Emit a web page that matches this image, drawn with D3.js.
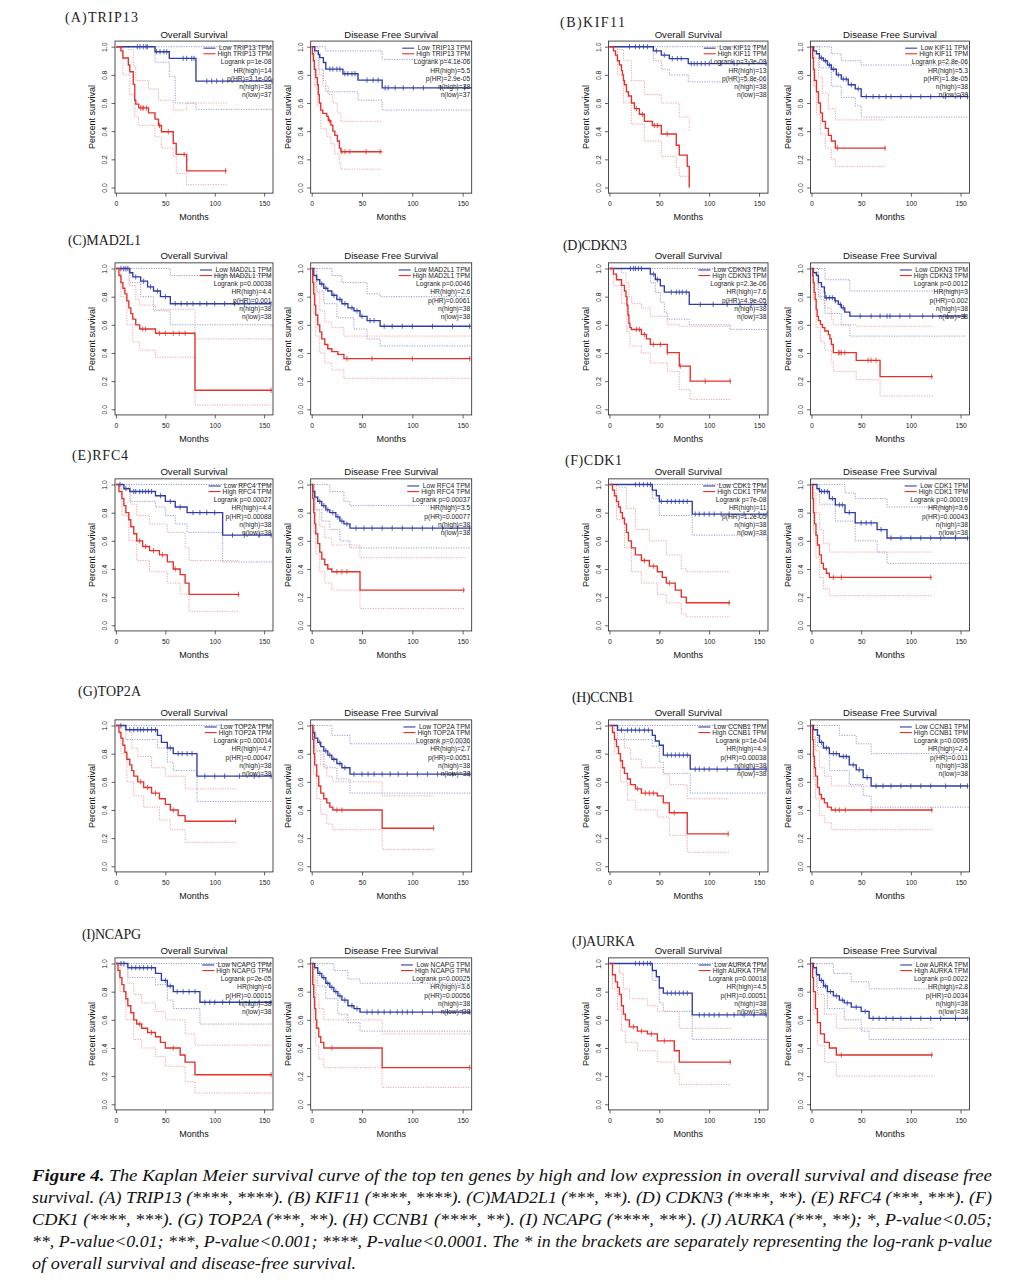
<!DOCTYPE html>
<html><head><meta charset="utf-8">
<script src="https://cdn.jsdelivr.net/npm/d3@7"></script>
<style>body{margin:0;background:#fff}</style></head>
<body><svg id="c" width="1027" height="1280"></svg>
<script>
// ---------------- DATA ----------------
const genes = ["TRIP13","KIF11","MAD2L1","CDKN3","RFC4","CDK1","TOP2A","CCNB1","NCAPG","AURKA"];
const panelLetters = ["A","B","C","D","E","F","G","H","I","J"];
const xTicks = [0,50,100,150];
const yTicks = [0,0.2,0.4,0.6,0.8,1.0];

const statsOS = [
 ["Logrank p=1e-08","HR(high)=14","p(HR)=3.1e-06","n(high)=38","n(low)=37"],
 ["Logrank p=3.3e-08","HR(high)=13","p(HR)=5.8e-06","n(high)=38","n(low)=38"],
 ["Logrank p=0.00038","HR(high)=4.4","p(HR)=0.001","n(high)=38","n(low)=38"],
 ["Logrank p=2.3e-06","HR(high)=7.6","p(HR)=4.9e-05","n(high)=38","n(low)=38"],
 ["Logrank p=0.00027","HR(high)=4.4","p(HR)=0.00088","n(high)=38","n(low)=38"],
 ["Logrank p=7e-08","HR(high)=11","p(HR)=1.2e-05","n(high)=38","n(low)=38"],
 ["Logrank p=0.00014","HR(high)=4.7","p(HR)=0.00047","n(high)=38","n(low)=38"],
 ["Logrank p=1e-04","HR(high)=4.9","p(HR)=0.00038","n(high)=38","n(low)=38"],
 ["Logrank p=2e-05","HR(high)=6","p(HR)=0.00015","n(high)=38","n(low)=38"],
 ["Logrank p=0.00018","HR(high)=4.5","p(HR)=0.00051","n(high)=38","n(low)=38"]];
const statsDFS = [
 ["Logrank p=4.1e-06","HR(high)=5.5","p(HR)=2.9e-05","n(high)=38","n(low)=37"],
 ["Logrank p=2.8e-06","HR(high)=5.3","p(HR)=1.8e-05","n(high)=38","n(low)=38"],
 ["Logrank p=0.0046","HR(high)=2.6","p(HR)=0.0061","n(high)=38","n(low)=38"],
 ["Logrank p=0.0012","HR(high)=3","p(HR)=0.002","n(high)=38","n(low)=38"],
 ["Logrank p=0.00037","HR(high)=3.5","p(HR)=0.00077","n(high)=38","n(low)=38"],
 ["Logrank p=0.00019","HR(high)=3.6","p(HR)=0.00043","n(high)=38","n(low)=38"],
 ["Logrank p=0.0036","HR(high)=2.7","p(HR)=0.0051","n(high)=38","n(low)=38"],
 ["Logrank p=0.0095","HR(high)=2.4","p(HR)=0.011","n(high)=38","n(low)=38"],
 ["Logrank p=0.00025","HR(high)=3.6","p(HR)=0.00056","n(high)=38","n(low)=38"],
 ["Logrank p=0.0022","HR(high)=2.8","p(HR)=0.0034","n(high)=38","n(low)=38"]];

// Kaplan-Meier steps [month, survival] — low expression (blue)
const OS_low = [
 [[0,1],[39.5,0.964],[54,0.917],[81,0.756],[158,0.756]],
 [[0,1],[44,0.97],[52,0.94],[60,0.915],[79,0.88],[158,0.88]],
 [[0,1],[14,0.97],[17,0.94],[25,0.91],[32,0.87],[38,0.84],[45,0.8],[55,0.75],[157,0.75]],
 [[0,1],[41,0.96],[46,0.922],[51,0.877],[55,0.832],[80,0.745],[158,0.745]],
 [[0,1],[8,0.97],[14,0.95],[40,0.92],[50,0.88],[60,0.84],[72,0.8],[108,0.64],[158,0.64]],
 [[0,1],[43,0.96],[47,0.92],[50,0.88],[83,0.79],[158,0.79]],
 [[0,1],[10,0.97],[42,0.93],[46,0.88],[52,0.84],[58,0.8],[82,0.64],[158,0.64]],
 [[0,1],[8,0.967],[43,0.93],[46,0.89],[50,0.86],[54,0.79],[81,0.69],[158,0.69]],
 [[0,1],[12,0.97],[40,0.93],[46,0.88],[52,0.84],[58,0.8],[85,0.725],[158,0.725]],
 [[0,1],[43,0.95],[47,0.906],[50,0.826],[54,0.79],[83,0.635],[158,0.635]]];
const OS_high = [
 [[0,1],[5,0.97],[7,0.92],[12.5,0.87],[14,0.822],[17.5,0.732],[19,0.62],[20,0.592],[23,0.565],[33,0.53],[39.5,0.486],[43,0.44],[46,0.396],[58,0.313],[61,0.235],[71.6,0.118],[112,0.118]],
 [[0,1],[4,0.97],[6,0.94],[8,0.9],[10,0.87],[12,0.83],[13,0.8],[14,0.76],[15,0.73],[17,0.68],[19,0.65],[22,0.6],[25,0.56],[30,0.52],[35,0.47],[43,0.44],[52,0.38],[67,0.3],[70,0.23],[78,0.15],[80,0],[80,0]],
 [[0,1],[3,0.95],[5,0.9],[7,0.86],[9,0.82],[11,0.77],[13,0.72],[15,0.68],[17,0.64],[20,0.6],[24,0.57],[40,0.54],[80,0.135],[158,0.135]],
 [[0,1],[4,0.96],[7,0.92],[12,0.88],[15,0.84],[16.5,0.8],[17.5,0.74],[18.5,0.67],[19.5,0.61],[20.5,0.58],[22,0.567],[32,0.532],[37,0.5],[41,0.461],[58,0.402],[70,0.307],[81,0.2],[122,0.2]],
 [[0,1],[3,0.95],[6,0.9],[8,0.85],[10,0.8],[13,0.75],[15,0.7],[18,0.65],[21,0.6],[27,0.56],[34,0.53],[44,0.5],[52,0.45],[58,0.4],[65,0.36],[70,0.3],[74,0.22],[125,0.22]],
 [[0,1],[3,0.96],[5,0.92],[7,0.88],[9,0.84],[11,0.8],[13,0.76],[15,0.72],[17,0.66],[19,0.6],[22,0.55],[26,0.5],[32,0.46],[40,0.42],[48,0.38],[53,0.34],[57,0.3],[66,0.25],[72,0.2],[77,0.16],[121,0.16]],
 [[0,1],[3,0.95],[5,0.91],[7,0.86],[9,0.81],[11,0.76],[14,0.72],[16,0.68],[18,0.64],[22,0.6],[28,0.56],[36,0.52],[44,0.48],[50,0.44],[55,0.4],[63,0.36],[70,0.32],[122,0.32]],
 [[0,1],[3,0.95],[5,0.9],[7,0.85],[9,0.8],[11,0.75],[13,0.7],[15,0.66],[18,0.62],[21,0.58],[26,0.55],[32,0.52],[48,0.5],[54,0.45],[60,0.38],[78,0.23],[120,0.23]],
 [[0,1],[2,0.95],[4,0.9],[6,0.85],[8,0.8],[10,0.75],[12,0.7],[15,0.65],[18,0.6],[21,0.57],[26,0.54],[32,0.51],[40,0.48],[45,0.44],[50,0.4],[65,0.35],[70,0.3],[80,0.21],[158,0.21]],
 [[0,1],[3,0.92],[6,0.87],[8,0.83],[10,0.78],[12,0.7],[14,0.64],[16,0.6],[20,0.55],[28,0.52],[38,0.5],[48,0.45],[65,0.38],[70,0.3],[122,0.3]]];
const DFS_low = [
 [[0,1],[3,0.97],[6.6,0.945],[8,0.922],[11.6,0.888],[14,0.841],[31,0.808],[46,0.763],[70,0.708],[159,0.708]],
 [[0,1],[2,0.97],[5,0.95],[8,0.92],[12,0.9],[16,0.87],[20,0.84],[25,0.8],[30,0.77],[37,0.73],[44,0.7],[50,0.645],[158,0.645]],
 [[0,1],[2,0.95],[5,0.92],[8,0.89],[12,0.86],[16,0.84],[20,0.81],[25,0.78],[30,0.75],[36,0.72],[42,0.7],[48,0.66],[55,0.63],[68,0.59],[158,0.59]],
 [[0,1],[1.7,0.97],[5,0.95],[7,0.9],[10,0.87],[13,0.83],[13.5,0.792],[23.5,0.77],[27,0.745],[30,0.72],[33.5,0.69],[38.6,0.662],[156,0.662]],
 [[0,1],[1,0.95],[3,0.91],[6,0.88],[10,0.85],[14,0.82],[18,0.8],[24,0.77],[28,0.74],[32,0.72],[38,0.69],[158,0.69]],
 [[0,1],[5.5,0.97],[8,0.95],[18,0.9],[24,0.855],[33.7,0.8],[44,0.727],[66,0.68],[76,0.62],[158,0.62]],
 [[0,1],[1,0.95],[3,0.91],[6,0.88],[9,0.85],[12,0.82],[16,0.79],[20,0.76],[25,0.73],[30,0.7],[38,0.655],[158,0.655]],
 [[0,1],[2,0.97],[6,0.93],[8,0.88],[12,0.84],[18,0.8],[28,0.78],[38,0.72],[45,0.685],[52,0.63],[60,0.57],[158,0.57]],
 [[0,1],[3,0.97],[6,0.93],[10,0.9],[14,0.86],[18,0.83],[22,0.8],[26,0.77],[30,0.74],[36,0.7],[42,0.68],[48,0.655],[158,0.655]],
 [[0,1],[2,0.97],[5,0.92],[8,0.88],[12,0.84],[16,0.8],[22,0.77],[28,0.74],[33,0.72],[40,0.69],[50,0.66],[58,0.61],[158,0.61]]];
const DFS_high = [
 [[0,1],[0.7,0.95],[1.6,0.9],[2.6,0.84],[4,0.78],[5.6,0.73],[6.6,0.66],[7.6,0.6],[9,0.55],[11,0.526],[15,0.505],[16.5,0.476],[19,0.443],[21,0.4],[23,0.37],[25.5,0.33],[27.5,0.28],[29,0.254],[70,0.254]],
 [[0,1],[1,0.92],[2,0.84],[3,0.76],[5,0.68],[7,0.6],[9,0.53],[11,0.47],[14,0.42],[17,0.37],[20,0.33],[24,0.28],[75,0.28]],
 [[0,1],[1,0.9],[2,0.82],[3,0.74],[4,0.67],[6,0.6],[8,0.55],[10,0.5],[13,0.46],[16,0.43],[20,0.41],[26,0.39],[32,0.36],[158,0.36]],
 [[0,1],[1,0.95],[1.7,0.9],[2.7,0.83],[3.7,0.78],[4.7,0.71],[5.7,0.66],[7,0.63],[9,0.603],[11,0.58],[13.4,0.556],[17,0.53],[18.5,0.5],[20,0.46],[22,0.402],[45,0.348],[69,0.232],[122,0.232]],
 [[0,1],[1,0.9],[2,0.8],[3,0.72],[4,0.65],[6,0.58],[8,0.52],[10,0.47],[13,0.43],[16,0.4],[20,0.38],[48,0.25],[152,0.25]],
 [[0,1],[1,0.9],[2,0.8],[3,0.72],[4.5,0.64],[6,0.57],[8,0.5],[10,0.44],[12,0.4],[15,0.37],[18,0.34],[121,0.34]],
 [[0,1],[1,0.9],[2,0.8],[3,0.72],[5,0.64],[7,0.57],[9,0.52],[12,0.48],[15,0.45],[18,0.42],[21,0.4],[70,0.27],[122,0.27]],
 [[0,1],[1,0.9],[2,0.78],[3,0.7],[4,0.64],[6,0.56],[8,0.51],[10,0.48],[13,0.45],[16,0.42],[20,0.4],[122,0.4]],
 [[0,1],[1,0.85],[2,0.76],[3,0.68],[4,0.6],[5,0.54],[7,0.48],[9,0.44],[12,0.4],[70,0.26],[158,0.26]],
 [[0,1],[1,0.9],[2,0.8],[4,0.68],[6,0.58],[9,0.5],[13,0.44],[18,0.4],[25,0.35],[122,0.35]]];

// censored times (months)
const OS_low_cens = [
 [21.6,24.3,27.7,30.4,31.8,41,44.6,48.6,51.4,68,71.6,76.7,79,92,97,102,108,158],
 [20,26,30,34,38,47,55,63,68,72,82,85,88,92,96,100,112,125,140,157],
 [5,8,10,12,20,28,35,42,50,60,66,72,78,85,92,100,110,120,130,157],
 [21,24,26,29,32,44,48,62,67,70,73,77,91,104,118,131,142,156],
 [4,10,18,20,24,27,30,33,36,45,55,65,78,85,92,100,118,130,145,157],
 [26,30,34,38,41,52,58,62,66,70,74,78,86,90,95,100,105,112,120,135,150,158],
 [5,14,18,22,25,28,32,36,40,55,63,67,72,77,90,100,110,125,140,157],
 [12,18,22,26,30,35,39,58,62,66,70,74,78,86,90,95,100,108,118,130,145,157],
 [5,8,16,20,24,28,32,36,50,55,62,68,74,80,90,95,100,108,115,125,135,145,157],
 [26,30,34,38,41,58,62,66,70,74,78,90,95,100,105,110,118,125,135,145,157]];
const OS_high_cens = [
 [25,26.5,28,31,44,53,69,111],[27,33,45,48,58],[27,30,44,50,58,64,70,157],[27,30,35,44,51,58,71,96,121],
 [24,30,38,47,60,124],[35,44,60,120],[25,32,40,58,121],[28,36,40,44,65,119],[24,36,58,157],[24,32,42,55,121]];
const DFS_low_cens = [
 [18,21,25,28,33,36,40,43,55,61,66,73,76,83,91,101,111,128,152],
 [10,14,18,22,27,32,35,40,47,55,62,68,75,80,90,100,110,120,135,150,157],
 [10,14,22,28,33,40,45,50,58,62,72,80,90,100,120,140,157],
 [15,18,21,24,29,32,49,60,69,76,79,89,99,112,122,137,154],
 [8,12,16,21,26,30,35,44,52,60,70,80,90,100,110,120,130,145,157],
 [10,13,16,21,28,31,38,50,55,60,70,80,90,100,110,120,130,145,157],
 [8,14,18,22,28,33,42,50,56,62,70,78,86,95,105,115,125,140,157],
 [10,15,22,25,32,35,42,48,56,65,72,80,90,100,110,120,135,150,157],
 [8,12,16,20,24,28,33,40,45,55,60,66,72,78,85,90,95,100,110,120,135,150,157],
 [10,14,19,25,31,36,45,54,62,68,75,82,90,100,110,120,130,145,157]];
const DFS_high_cens = [
 [17.5,30,33,38,54,68],[26,74],[35,60,100,157],[27,28.5,30,33.5,57,60,65,121],[25,30,35,151],
 [22,30,120],[25,30,121],[24,28,34,60,121],[20,157],[30,121]];

// 95% confidence bands (dotted) [month, survival]
const OS_low_ciUp = [
 [[0,1],[158,1]],[[0,1],[158,1]],[[0,1],[40,1],[55,0.95],[158,0.95]],[[0,1],[158,1]],[[0,1],[158,1]],
 [[0,1],[158,1]],[[0,1],[158,1]],[[0,1],[158,1]],[[0,1],[158,1]],[[0,1],[158,1]]];
const OS_low_ciDn = [
 [[0,1],[39.5,0.89],[54,0.79],[60,0.6],[81,0.555],[158,0.555]],
 [[0,1],[44,0.9],[52,0.84],[60,0.8],[79,0.75],[158,0.75]],
 [[0,1],[14,0.9],[25,0.8],[38,0.7],[55,0.6],[158,0.58]],
 [[0,1],[41,0.9],[46,0.83],[51,0.76],[55,0.69],[58,0.64],[80,0.6],[121,0.567],[158,0.567]],
 [[0,1],[14,0.88],[40,0.84],[50,0.78],[60,0.72],[72,0.66],[108,0.45],[158,0.45]],
 [[0,1],[43,0.9],[50,0.78],[83,0.64],[158,0.6]],
 [[0,1],[10,0.9],[42,0.84],[52,0.74],[58,0.68],[82,0.46],[158,0.46]],
 [[0,1],[8,0.9],[43,0.85],[50,0.74],[54,0.66],[81,0.52],[158,0.52]],
 [[0,1],[12,0.9],[40,0.85],[52,0.74],[58,0.68],[85,0.57],[158,0.57]],
 [[0,1],[43,0.88],[50,0.72],[54,0.66],[83,0.46],[158,0.46]]];
const OS_high_ciUp = [
 [[0,1],[12.5,0.98],[17.5,0.86],[20,0.76],[33,0.7],[43,0.62],[58,0.55],[71.6,0.6],[112,0.6]],
 [[0,1],[8,0.98],[14,0.9],[22,0.76],[35,0.66],[52,0.6],[70,0.5],[80,0.4],[80,0.4]],
 [[0,1],[7,0.98],[13,0.88],[20,0.78],[24,0.74],[40,0.71],[80,0.5],[158,0.5]],
 [[0,1],[7,1],[12,0.97],[16.5,0.9],[19.5,0.8],[22,0.75],[32,0.72],[41,0.66],[58,0.6],[70,0.59],[122,0.59]],
 [[0,1],[8,0.98],[15,0.86],[21,0.78],[34,0.72],[52,0.66],[70,0.55],[74,0.46],[125,0.46]],
 [[0,1],[9,0.98],[17,0.83],[26,0.68],[40,0.6],[57,0.5],[72,0.4],[77,0.38],[121,0.38]],
 [[0,1],[9,0.97],[16,0.84],[22,0.78],[36,0.7],[50,0.64],[70,0.55],[122,0.55]],
 [[0,1],[9,0.97],[15,0.84],[21,0.76],[32,0.7],[54,0.65],[60,0.58],[78,0.48],[120,0.48]],
 [[0,1],[6,0.98],[12,0.86],[18,0.78],[26,0.72],[40,0.66],[50,0.6],[70,0.5],[80,0.42],[158,0.42]],
 [[0,1],[6,1],[10,0.93],[14,0.82],[20,0.75],[38,0.7],[48,0.66],[70,0.54],[122,0.54]]];
const OS_high_ciDn = [
 [[0,1],[7,0.8],[14,0.66],[19,0.5],[23,0.44],[39.5,0.36],[46,0.28],[58,0.22],[61,0.1],[71.6,0.02],[112,0.02]],
 [[0,1],[8,0.8],[14,0.6],[22,0.45],[35,0.33],[52,0.22],[67,0.14],[70,0.08],[80,0],[80,0]],
 [[0,1],[5,0.8],[11,0.6],[17,0.48],[24,0.42],[40,0.37],[80,0.03],[158,0.03]],
 [[0,1],[4,0.88],[12,0.75],[17.5,0.55],[20.5,0.45],[32,0.4],[41,0.33],[58,0.27],[70,0.14],[81,0.07],[122,0.07]],
 [[0,1],[6,0.78],[13,0.6],[21,0.46],[34,0.38],[52,0.3],[65,0.22],[74,0.1],[125,0.1]],
 [[0,1],[7,0.75],[15,0.55],[22,0.38],[32,0.3],[48,0.22],[57,0.16],[72,0.08],[77,0.06],[121,0.06]],
 [[0,1],[5,0.8],[11,0.6],[18,0.5],[28,0.42],[44,0.33],[55,0.26],[70,0.17],[122,0.17]],
 [[0,1],[5,0.8],[11,0.6],[18,0.47],[26,0.4],[48,0.35],[60,0.22],[78,0.1],[120,0.1]],
 [[0,1],[4,0.8],[10,0.6],[18,0.46],[26,0.4],[40,0.34],[50,0.27],[70,0.16],[80,0.08],[158,0.08]],
 [[0,1],[3,0.82],[8,0.67],[12,0.52],[16,0.44],[28,0.38],[48,0.3],[65,0.22],[70,0.14],[122,0.14]]];
const DFS_low_ciUp = [
 [[0,1],[11.6,1],[14,0.97],[70,0.91],[159,0.91]],
 [[0,1],[10,1],[20,0.95],[30,0.9],[50,0.87],[158,0.87]],
 [[0,1],[10,1],[20,0.95],[30,0.9],[55,0.82],[68,0.8],[158,0.8]],
 [[0,1],[5,1],[13.5,0.92],[38.6,0.84],[156,0.84]],
 [[0,1],[10,1],[18,0.95],[32,0.88],[38,0.85],[158,0.85]],
 [[0,1],[18,1],[33.7,0.94],[44,0.9],[76,0.84],[158,0.84]],
 [[0,1],[9,1],[20,0.93],[38,0.87],[158,0.87]],
 [[0,1],[12,1],[28,0.93],[45,0.87],[60,0.8],[158,0.8]],
 [[0,1],[10,1],[22,0.95],[36,0.89],[48,0.86],[158,0.86]],
 [[0,1],[8,1],[22,0.93],[40,0.87],[58,0.82],[158,0.82]]];
const DFS_low_ciDn = [
 [[0,1],[6.6,0.84],[11.6,0.76],[14,0.68],[46,0.62],[70,0.55],[159,0.55]],
 [[0,1],[8,0.85],[20,0.72],[30,0.64],[44,0.58],[50,0.5],[158,0.5]],
 [[0,1],[5,0.84],[12,0.75],[25,0.65],[42,0.57],[55,0.5],[68,0.45],[158,0.45]],
 [[0,1],[7,0.8],[13.5,0.68],[30,0.6],[38.6,0.52],[156,0.52]],
 [[0,1],[3,0.82],[10,0.74],[18,0.68],[28,0.6],[38,0.55],[158,0.55]],
 [[0,1],[8,0.86],[24,0.74],[44,0.6],[66,0.52],[76,0.44],[158,0.44]],
 [[0,1],[3,0.82],[12,0.7],[25,0.62],[38,0.52],[158,0.52]],
 [[0,1],[6,0.85],[18,0.68],[38,0.58],[52,0.5],[60,0.42],[158,0.42]],
 [[0,1],[6,0.84],[14,0.75],[26,0.64],[36,0.58],[48,0.52],[158,0.52]],
 [[0,1],[5,0.83],[16,0.68],[33,0.6],[50,0.52],[58,0.46],[158,0.46]]];
const DFS_high_ciUp = [
 [[0,1],[4,0.95],[7.6,0.8],[11,0.72],[16.5,0.66],[21,0.6],[25.5,0.53],[29,0.47],[70,0.47]],
 [[0,1],[3,0.92],[7,0.78],[11,0.67],[17,0.56],[24,0.48],[75,0.48]],
 [[0,1],[2,0.95],[4,0.83],[8,0.7],[13,0.62],[20,0.58],[32,0.52],[158,0.52]],
 [[0,1],[2.7,0.98],[5.7,0.85],[9,0.78],[13.4,0.72],[20,0.64],[22,0.6],[45,0.59],[122,0.59]],
 [[0,1],[2,0.95],[4,0.82],[8,0.7],[13,0.62],[20,0.57],[48,0.48],[152,0.48]],
 [[0,1],[2,0.94],[4.5,0.8],[8,0.68],[12,0.58],[18,0.52],[121,0.52]],
 [[0,1],[2,0.94],[5,0.82],[9,0.72],[15,0.64],[21,0.6],[70,0.5],[122,0.5]],
 [[0,1],[2,0.92],[4,0.82],[8,0.7],[13,0.64],[20,0.57],[122,0.57]],
 [[0,1],[2,0.9],[4,0.78],[7,0.68],[12,0.6],[70,0.5],[158,0.5]],
 [[0,1],[2,0.94],[6,0.78],[13,0.64],[25,0.54],[122,0.54]]];
const DFS_high_ciDn = [
 [[0,1],[2.6,0.72],[5.6,0.58],[9,0.42],[15,0.36],[19,0.31],[23,0.24],[27.5,0.17],[29,0.13],[70,0.13]],
 [[0,1],[2,0.72],[5,0.52],[9,0.38],[14,0.28],[20,0.2],[24,0.15],[75,0.15]],
 [[0,1],[2,0.68],[4,0.52],[8,0.4],[13,0.33],[20,0.28],[32,0.22],[158,0.22]],
 [[0,1],[1.7,0.78],[4.7,0.58],[9,0.48],[13.4,0.42],[20,0.34],[22,0.27],[45,0.21],[69,0.095],[122,0.095]],
 [[0,1],[2,0.66],[4,0.5],[8,0.38],[13,0.3],[20,0.25],[48,0.12],[152,0.12]],
 [[0,1],[2,0.66],[4.5,0.48],[8,0.34],[12,0.26],[18,0.21],[121,0.21]],
 [[0,1],[2,0.65],[5,0.48],[9,0.37],[15,0.3],[21,0.26],[70,0.12],[122,0.12]],
 [[0,1],[2,0.62],[4,0.48],[8,0.36],[13,0.31],[20,0.26],[122,0.26]],
 [[0,1],[2,0.58],[4,0.42],[7,0.32],[12,0.26],[70,0.12],[158,0.12]],
 [[0,1],[2,0.64],[6,0.42],[13,0.3],[25,0.2],[122,0.2]]];

const captionLines = [
 "The Kaplan Meier survival curve of the top ten genes by high and low expression in overall survival and disease free",
 "survival. (A) TRIP13 (****, ****). (B) KIF11 (****, ****). (C)MAD2L1 (***, **). (D) CDKN3 (****, **). (E) RFC4 (***, ***). (F)",
 "CDK1 (****, ***). (G) TOP2A (***, **). (H) CCNB1 (****, **). (I) NCAPG (****, ***). (J) AURKA (***, **); *, P-value<0.05;",
 "**, P-value<0.01; ***, P-value<0.001; ****, P-value<0.0001. The * in the brackets are separately representing the log-rank p-value",
 "of overall survival and disease-free survival."];

// ---------------- LAYOUT ----------------
const colLeft = [[115,310.7],[608.5,810.5]];
const colWidth = [[158,161],[159.5,159]];
const rowY1 = [46.7,268.5,484.5,725.5,963.5];
const unitH = 140.8;
const labelPos = [[65,21.5],[560,27],[68,245],[563,250],[72,460],[565,465],[78,696],[572,702],[82,939],[572,946]];
const labelW = [73,65,73,64,56,57,63,62,59,63];
const BLUE = "#2e3da6", RED = "#e5302b", BLUE_CI = "#8c93cc", RED_CI = "#f09898";
const SANS = "'Liberation Sans', Arial, sans-serif";

const svg = d3.select("#c");

function valAt(steps, t){ let s = steps[0][1]; for (const p of steps){ if (p[0] <= t) s = p[1]; } return s; }

function panel(left, width, y1, title, gene, low, high, lowC, highC, lu, ld, hu, hd, stats){
  const x = d3.scaleLinear().domain([-1,159]).range([left, left+width]);
  const y = d3.scaleLinear().domain([0,1]).range([y1+unitH, y1]);
  const top = y(1.04), bot = y(-0.04), right = left + width;
  const g = svg.append("g");
  const line = d3.line().x(d=>x(d[0])).y(d=>y(d[1])).curve(d3.curveStepAfter);
  [[lu,BLUE_CI],[ld,BLUE_CI],[hu,RED_CI],[hd,RED_CI]].forEach(([d,c])=>{
    g.append("path").attr("d", line(d)).attr("fill","none").attr("stroke",c)
     .attr("stroke-width",0.9).attr("stroke-dasharray","1.2,1.3");
  });
  [[low,BLUE],[high,RED]].forEach(([d,c])=>{
    g.append("path").attr("d", line(d)).attr("fill","none").attr("stroke",c).attr("stroke-width",1.35);
  });
  [[lowC,low,BLUE],[highC,high,RED]].forEach(([cs,st,c])=>{
    cs.forEach(t=>{
      const cx = x(t), cy = y(valAt(st,t));
      g.append("line").attr("x1",cx).attr("x2",cx).attr("y1",cy-2.6).attr("y2",cy+2.6).attr("stroke",c).attr("stroke-width",0.8);
    });
  });
  g.append("rect").attr("x",left).attr("y",top).attr("width",width).attr("height",bot-top)
   .attr("fill","none").attr("stroke","#222").attr("stroke-width",0.8);
  const ax = g.append("g").attr("transform",`translate(0,${bot})`)
   .call(d3.axisBottom(x).tickValues(xTicks).tickSize(3.5).tickPadding(5).tickFormat(d3.format("d")));
  const ay = g.append("g").attr("transform",`translate(${left},0)`)
   .call(d3.axisLeft(y).tickValues(yTicks).tickSize(3.5).tickFormat(d3.format(".1f")));
  [ax,ay].forEach(a=>{ a.select(".domain").remove();
    a.selectAll("line").attr("stroke","#222").attr("stroke-width",0.7);
    a.selectAll("text").attr("font-family",SANS).attr("font-size",6.8).attr("fill","#222"); });
  ay.selectAll("text").attr("x",null).attr("dy",null).attr("text-anchor","middle")
    .attr("transform","translate(-7.6,0) rotate(-90)");
  g.append("text").attr("x",(left+right)/2).attr("y",top-3.4).attr("text-anchor","middle")
   .attr("font-family",SANS).attr("font-size",9.6).attr("fill","#111").text(title);
  g.append("text").attr("x",(left+right)/2).attr("y",bot+27).attr("text-anchor","middle")
   .attr("font-family",SANS).attr("font-size",9).attr("fill","#111").text("Months");
  g.append("text").attr("transform",`translate(${left-20},${(top+bot)/2}) rotate(-90)`).attr("text-anchor","middle")
   .attr("font-family",SANS).attr("font-size",9).attr("fill","#111").text("Percent survival");
  const tx = right - 1.5;
  const leg = [["Low "+gene+" TPM",BLUE,9.4],["High "+gene+" TPM",RED,15]];
  let maxW = 0;
  leg.forEach(([s,c,dy])=>{
    const t = g.append("text").attr("x",tx).attr("y",top+dy).attr("text-anchor","end")
      .attr("font-family",SANS).attr("font-size",6.7).attr("fill","#222").text(s);
    maxW = Math.max(maxW, t.node().getComputedTextLength());
  });
  leg.forEach(([s,c,dy])=>{
    g.append("line").attr("x1",tx-maxW-14).attr("x2",tx-maxW-2).attr("y1",top+dy-2.3).attr("y2",top+dy-2.3)
     .attr("stroke",c).attr("stroke-width",1.1);
  });
  stats.forEach((s,i)=>{
    g.append("text").attr("x",tx).attr("y",top+23.4+i*8.2).attr("text-anchor","end")
      .attr("font-family",SANS).attr("font-size",6.7).attr("fill","#222").text(s);
  });
}

genes.forEach((gene,i)=>{
  const col = i%2, row = Math.floor(i/2);
  panel(colLeft[col][0], colWidth[col][0], rowY1[row], "Overall Survival", gene,
    OS_low[i], OS_high[i], OS_low_cens[i], OS_high_cens[i], OS_low_ciUp[i], OS_low_ciDn[i], OS_high_ciUp[i], OS_high_ciDn[i], statsOS[i]);
  panel(colLeft[col][1], colWidth[col][1], rowY1[row], "Disease Free Survival", gene,
    DFS_low[i], DFS_high[i], DFS_low_cens[i], DFS_high_cens[i], DFS_low_ciUp[i], DFS_low_ciDn[i], DFS_high_ciUp[i], DFS_high_ciDn[i], statsDFS[i]);
  svg.append("text").attr("x",labelPos[i][0]).attr("y",labelPos[i][1])
    .attr("font-family","'Liberation Serif','DejaVu Serif',serif").attr("font-size",14).attr("fill","#222")
    .attr("textLength",labelW[i]).attr("lengthAdjust","spacing")
    .text("("+panelLetters[i]+")"+gene);
});

const capW = [960,960,960,960,324];
captionLines.forEach((s,i)=>{
  const t = svg.append("text").attr("x",32).attr("y",1181+i*22)
    .attr("font-family","'Liberation Serif','Times New Roman',serif").attr("font-style","italic")
    .attr("font-size",17.5).attr("fill","#111")
    .attr("textLength",capW[i]).attr("lengthAdjust","spacingAndGlyphs");
  if (i===0){ t.append("tspan").attr("font-weight","bold").text("Figure 4. "); t.append("tspan").text(s); }
  else t.text(s);
});
</script></body></html>
